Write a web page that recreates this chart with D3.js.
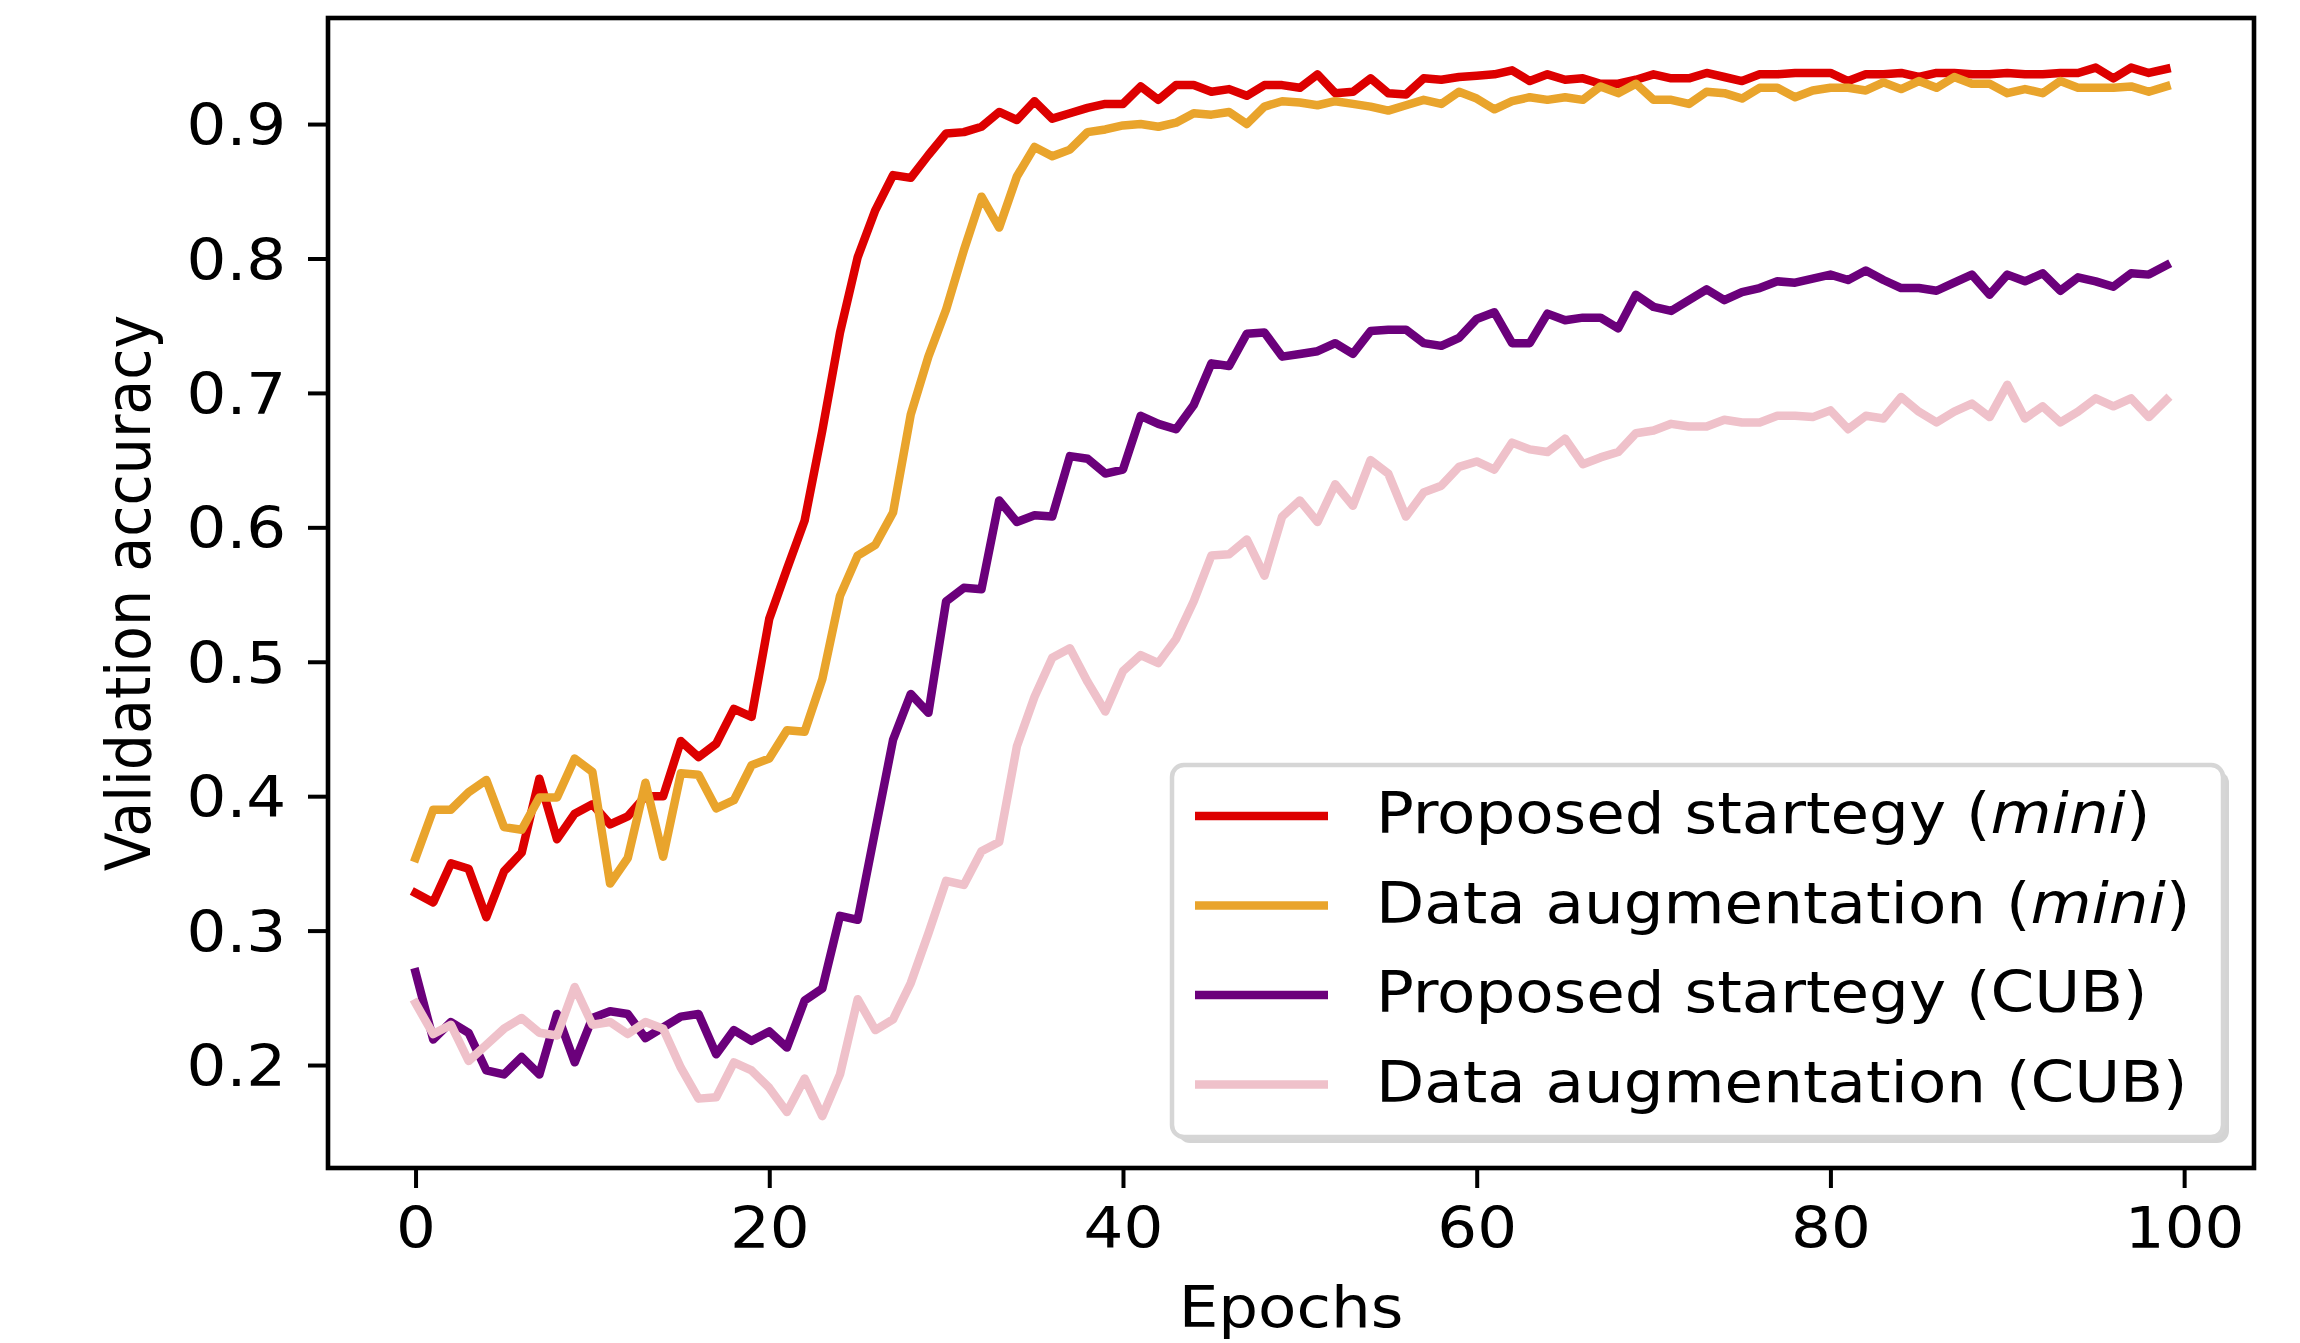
<!DOCTYPE html>
<html>
<head>
<meta charset="utf-8">
<script src="https://cdn.jsdelivr.net/npm/d3@7"></script>
<style>
  body { margin: 0; background: white; }
  svg { display: block; }
  text { font-family: 'DejaVu Sans', sans-serif; fill: black; }
</style>
</head>
<body>
<svg id="display"></svg>
<script>
"use strict";

// validation accuracy per epoch
var epochs = d3.range(0, 100);

var proposedMini = [
  0.328, 0.321, 0.350, 0.346, 0.310, 0.344, 0.358, 0.413, 0.368, 0.387,
  0.394, 0.379, 0.385, 0.400, 0.400, 0.441, 0.429, 0.439, 0.465, 0.459,
  0.532, 0.569, 0.605, 0.672, 0.745, 0.801, 0.836, 0.862, 0.860, 0.877,
  0.893, 0.894, 0.898, 0.909, 0.903, 0.917, 0.904, 0.908, 0.912, 0.915,
  0.915, 0.928, 0.918, 0.929, 0.929, 0.924, 0.926, 0.921, 0.929, 0.929,
  0.927, 0.937, 0.923, 0.924, 0.934, 0.923, 0.922, 0.934, 0.933, 0.935,
  0.936, 0.937, 0.940, 0.932, 0.937, 0.933, 0.934, 0.930, 0.930, 0.933,
  0.937, 0.934, 0.934, 0.938, 0.935, 0.932, 0.937, 0.937, 0.938, 0.938,
  0.938, 0.932, 0.937, 0.937, 0.938, 0.935, 0.938, 0.938, 0.937, 0.937,
  0.938, 0.937, 0.937, 0.938, 0.938, 0.942, 0.934, 0.942, 0.938, 0.941
];

var augMini = [
  0.354, 0.390, 0.390, 0.403, 0.412, 0.377, 0.375, 0.399, 0.399, 0.428,
  0.418, 0.335, 0.354, 0.410, 0.355, 0.417, 0.416, 0.391, 0.397, 0.423,
  0.428, 0.449, 0.448, 0.487, 0.549, 0.579, 0.587, 0.611, 0.684, 0.727,
  0.762, 0.806, 0.846, 0.823, 0.861, 0.883, 0.876, 0.881, 0.894, 0.896,
  0.899, 0.900, 0.898, 0.901, 0.908, 0.907, 0.909, 0.900, 0.913, 0.917,
  0.916, 0.914, 0.917, 0.915, 0.913, 0.910, 0.914, 0.918, 0.915, 0.924,
  0.919, 0.911, 0.917, 0.920, 0.918, 0.920, 0.918, 0.928, 0.923, 0.930,
  0.918, 0.918, 0.915, 0.924, 0.923, 0.919, 0.927, 0.927, 0.920, 0.925,
  0.927, 0.927, 0.925, 0.931, 0.926, 0.932, 0.927, 0.935, 0.930, 0.930,
  0.923, 0.926, 0.923, 0.932, 0.927, 0.927, 0.927, 0.928, 0.924, 0.928
];

var proposedCub = [
  0.269, 0.219, 0.232, 0.224, 0.196, 0.193, 0.206, 0.193, 0.238, 0.202,
  0.235, 0.240, 0.238, 0.220, 0.228, 0.236, 0.238, 0.208, 0.226, 0.218,
  0.225, 0.213, 0.248, 0.257, 0.311, 0.308, 0.375, 0.442, 0.476, 0.462,
  0.545, 0.555, 0.554, 0.620, 0.604, 0.609, 0.608, 0.653, 0.651, 0.640,
  0.643, 0.683, 0.677, 0.673, 0.691, 0.722, 0.720, 0.744, 0.745, 0.727,
  0.729, 0.731, 0.737, 0.729, 0.746, 0.747, 0.747, 0.737, 0.735, 0.741,
  0.755, 0.760, 0.737, 0.737, 0.759, 0.754, 0.756, 0.756, 0.748, 0.773,
  0.764, 0.761, 0.769, 0.777, 0.769, 0.775, 0.778, 0.783, 0.782, 0.785,
  0.788, 0.784, 0.791, 0.784, 0.778, 0.778, 0.776, 0.782, 0.788, 0.773,
  0.788, 0.783, 0.789, 0.776, 0.786, 0.783, 0.779, 0.789, 0.788, 0.795
];

var augCub = [
  0.246, 0.223, 0.230, 0.203, 0.215, 0.227, 0.235, 0.224, 0.222, 0.258,
  0.230, 0.232, 0.223, 0.232, 0.227, 0.198, 0.175, 0.176, 0.202, 0.196,
  0.183, 0.165, 0.190, 0.162, 0.193, 0.249, 0.226, 0.234, 0.261, 0.298,
  0.337, 0.334, 0.359, 0.366, 0.437, 0.474, 0.503, 0.510, 0.485, 0.463,
  0.493, 0.505, 0.499, 0.517, 0.545, 0.579, 0.580, 0.591, 0.564, 0.608,
  0.620, 0.604, 0.632, 0.616, 0.650, 0.640, 0.608, 0.626, 0.631, 0.645,
  0.649, 0.643, 0.663, 0.658, 0.656, 0.666, 0.647, 0.652, 0.656, 0.670,
  0.672, 0.677, 0.675, 0.675, 0.680, 0.678, 0.678, 0.683, 0.683, 0.682,
  0.687, 0.673, 0.683, 0.681, 0.697, 0.686, 0.678, 0.686, 0.692, 0.682,
  0.706, 0.681, 0.690, 0.678, 0.686, 0.696, 0.690, 0.696, 0.682, 0.695
];

var seriesNames = ['Proposed startegy', 'Data augmentation', 'Proposed startegy', 'Data augmentation'];
var seriesTags = ['mini', 'mini', 'CUB', 'CUB'];
var seriesColors = ['#dd0000', '#e9a42c', '#6b007b', '#efc1ca'];
var seriesValues = [proposedMini, augMini, proposedCub, augCub];

var xTicks = [0, 20, 40, 60, 80, 100];
var yTicks = [0.2, 0.3, 0.4, 0.5, 0.6, 0.7, 0.8, 0.9];

var width = 2300,
    height = 1343;

var margin = { left: 328, right: 2254, top: 18, bottom: 1168 };
var stretch = 1.1;   // the source figure's text is a bit wider than plain DejaVu

var svg = d3.select('#display');
var x, y;

init();

function init() {
	svg.attr('width', width).attr('height', height);
	svg.append('rect')
	  .attr('width', width)
	  .attr('height', height)
	  .attr('fill', 'white');

	x = d3.scaleLinear().domain([-4.95, 103.95]).range([margin.left, margin.right]);
	y = d3.scaleLinear().domain([0.1234, 0.9789]).range([margin.bottom, margin.top]);

	drawLines();
	drawAxes();
	drawLegend();
}

function drawLines() {
	var line = d3.line()
	  .x(function(d, i){ return x(epochs[i]); })
	  .y(function(d){ return y(d); });

	svg.append('g').attr('class', 'series')
	  .selectAll('path')
	  .data(seriesValues)
	  .enter().append('path')
	  .attr('d', line)
	  .attr('fill', 'none')
	  .attr('stroke', function(d, i){ return seriesColors[i]; })
	  .attr('stroke-width', 8.5)
	  .attr('stroke-linejoin', 'round')
	  .attr('stroke-linecap', 'square');
}

function drawAxes() {
	var xAxis = svg.append('g')
	  .attr('transform', 'translate(0,' + margin.bottom + ')')
	  .call(d3.axisBottom(x).tickValues(xTicks).tickSize(20).tickPadding(20).tickSizeOuter(0));
	var yAxis = svg.append('g')
	  .attr('transform', 'translate(' + margin.left + ',0)')
	  .call(d3.axisLeft(y).tickValues(yTicks).tickFormat(d3.format('.1f')).tickSize(20).tickPadding(20).tickSizeOuter(0));

	[xAxis, yAxis].forEach(function(a){
		a.select('.domain').remove();
		a.selectAll('line').attr('stroke', 'black').attr('stroke-width', 4);
		a.selectAll('text')
		  .style('font-family', "'DejaVu Sans', sans-serif")
		  .style('font-size', '57px')
		  .attr('fill', 'black')
		  .attr('transform', 'scale(' + stretch + ',1)');
	});
	yAxis.selectAll('text').attr('x', -38).attr('dy', '0.36em');

	// frame
	svg.append('rect')
	  .attr('x', margin.left)
	  .attr('y', margin.top)
	  .attr('width', margin.right - margin.left)
	  .attr('height', margin.bottom - margin.top)
	  .attr('fill', 'none')
	  .attr('stroke', 'black')
	  .attr('stroke-width', 4.6);

	svg.append('text')
	  .text('Epochs')
	  .attr('transform', 'translate(' + ((margin.left + margin.right) / 2) + ',1327) scale(' + stretch + ',1)')
	  .attr('text-anchor', 'middle')
	  .style('font-size', '57px');

	svg.append('text')
	  .text('Validation accuracy')
	  .attr('transform', 'translate(150,' + ((margin.top + margin.bottom) / 2) + ') rotate(-90) scale(1,' + stretch + ')')
	  .attr('text-anchor', 'middle')
	  .style('font-size', '57px');
}

function drawLegend() {
	var box = { x: 1172, y: 765, w: 1051, h: 372 };
	var legend = svg.append('g').attr('class', 'legend');

	legend.append('rect')
	  .attr('x', box.x + 6).attr('y', box.y + 6)
	  .attr('width', box.w).attr('height', box.h)
	  .attr('rx', 12).attr('ry', 12)
	  .attr('fill', '#d4d4d4');
	legend.append('rect')
	  .attr('x', box.x).attr('y', box.y)
	  .attr('width', box.w).attr('height', box.h)
	  .attr('rx', 12).attr('ry', 12)
	  .attr('fill', 'white')
	  .attr('stroke', '#d6d6d6')
	  .attr('stroke-width', 4.5);

	var rows = legend.selectAll('.item')
	  .data(seriesNames)
	  .enter().append('g')
	  .attr('class', 'item')
	  .attr('transform', function(d, i){ return 'translate(0,' + (816 + i * 89.5) + ')'; });

	rows.append('line')
	  .attr('x1', 1195).attr('x2', 1328)
	  .attr('y1', 0).attr('y2', 0)
	  .attr('stroke', function(d, i){ return seriesColors[i]; })
	  .attr('stroke-width', 8.5);

	var label = rows.append('text')
	  .attr('transform', 'translate(1376,17) scale(' + stretch + ',1)')
	  .style('font-size', '57px');
	label.append('tspan').text(function(d){ return d + ' ('; });
	label.append('tspan')
	  .text(function(d, i){ return seriesTags[i]; })
	  .style('font-style', function(d, i){ return seriesTags[i] == 'mini' ? 'italic' : 'normal'; });
	label.append('tspan').text(')');
}
</script>
</body>
</html>
